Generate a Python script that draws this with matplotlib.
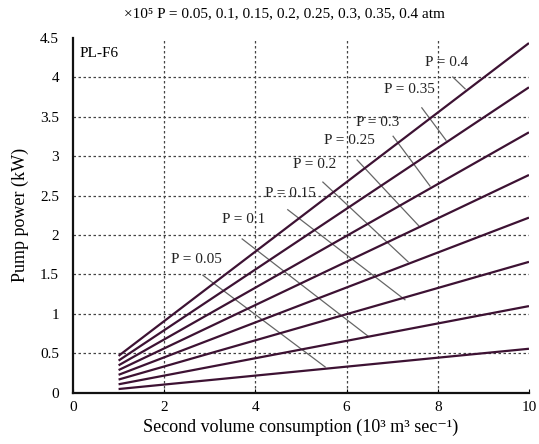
import matplotlib.pyplot as plt

plt.rcParams["font.family"] = ["Liberation Serif", "DejaVu Serif"]

# Pressure values (x10^5 atm) and the straight pump-power lines
pressures = [0.05, 0.1, 0.15, 0.2, 0.25, 0.3, 0.35, 0.4]
flow_range = [1, 10]
power_start = [0.05, 0.11, 0.17, 0.23, 0.29, 0.35, 0.41, 0.47]
power_end = [0.56, 1.10, 1.66, 2.22, 2.76, 3.30, 3.87, 4.43]

# label text positions and leader lines (label -> its curve)
label_xy = [
    (2.70, 1.69), (3.75, 2.19), (4.76, 2.52), (5.29, 2.89),
    (6.07, 3.20), (6.69, 3.43), (7.37, 3.84), (8.20, 4.19),
]
leader_start = [
    (2.85, 1.49), (3.71, 1.95), (4.71, 2.32), (5.48, 2.67),
    (6.23, 2.95), (7.02, 3.25), (7.65, 3.61), (8.33, 4.00),
]
leader_end = [
    (5.53, 0.33), (6.47, 0.72), (7.28, 1.18), (7.35, 1.66),
    (7.61, 2.10), (7.83, 2.62), (8.18, 3.20), (8.60, 3.85),
]

x_ticks = [0, 2, 4, 6, 8, 10]
y_ticks = [0, 0.5, 1, 1.5, 2, 2.5, 3, 3.5, 4, 4.5]
y_tick_labels = ["0", "0.5", "1", "1.5", "2", "2.5", "3", "3.5", "4", "4.5"]

fig = plt.figure(figsize=(5.39, 4.44), dpi=100)
ax = fig.add_axes([0.1354, 0.1149, 0.846, 0.8006])

line_color = "#3d1233"

for i, p in enumerate(pressures):
    ax.plot(flow_range, [power_start[i], power_end[i]], color=line_color,
            linewidth=1.6, zorder=3, solid_capstyle="butt")
    ax.plot([leader_start[i][0], leader_end[i][0]],
            [leader_start[i][1], leader_end[i][1]],
            color="#666666", linewidth=0.9, zorder=2)
    ax.text(label_xy[i][0], label_xy[i][1], f"P = {p:g}", fontsize=11,
            ha="center", va="center", color="#222222", zorder=4)

ax.text(0.15, 4.3, "PL-F6", fontsize=11, ha="left", va="center")

ax.set_xlim(0, 10)
ax.set_ylim(0, 4.5)
ax.set_xticks(x_ticks)
ax.set_yticks(y_ticks)
ax.set_yticklabels(y_tick_labels)

for gx in x_ticks[1:-1]:
    ax.axvline(gx, color="#444444", linewidth=0.9, linestyle=(0, (2, 2)), zorder=1)
for gy in y_ticks[1:-1]:
    ax.axhline(gy, color="#444444", linewidth=0.9, linestyle=(0, (2, 2)), zorder=1)

for side in ["top", "right"]:
    ax.spines[side].set_visible(False)
for side in ["left", "bottom"]:
    ax.spines[side].set_linewidth(1.6)
    ax.spines[side].set_color("#111111")

ax.tick_params(axis="x", direction="in", length=3, labelsize=11, pad=6)
ax.tick_params(axis="y", length=0, labelsize=11, pad=10)

ax.set_xlabel("Second volume consumption (10\u00b3 m\u00b3 sec\u207b\u00b9)", fontsize=13, labelpad=3)
ax.set_ylabel("Pump power (kW)", fontsize=13, labelpad=8)

fig.text(284 / 539, 1 - 14 / 444,
         "\u00d710\u2075 P = 0.05, 0.1, 0.15, 0.2, 0.25, 0.3, 0.35, 0.4 atm",
         fontsize=11, ha="center", va="center")

fig.savefig("out.png", dpi=100)
